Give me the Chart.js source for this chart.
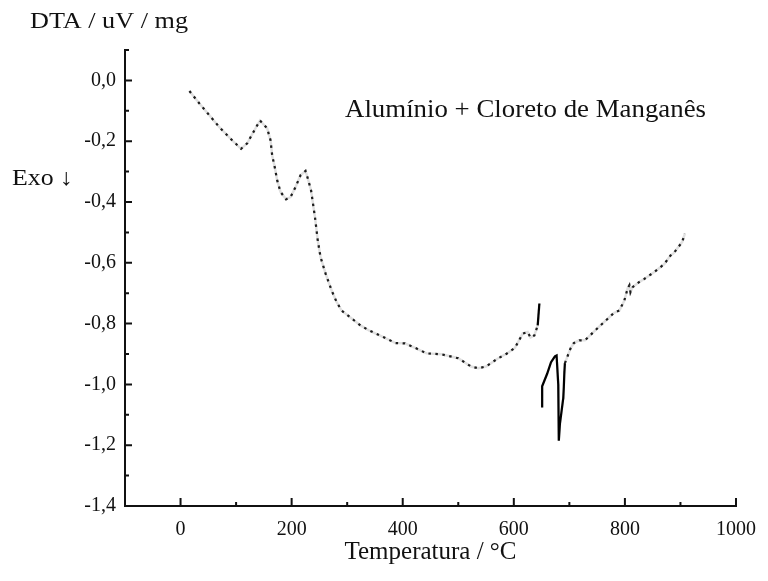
<!DOCTYPE html>
<html>
<head>
<meta charset="utf-8">
<script src="https://cdn.jsdelivr.net/npm/chart.js@4/dist/chart.umd.min.js"></script>
<style>
  html, body { margin: 0; padding: 0; background: #fff; }
  #wrap { width: 768px; height: 581px; }
</style>
</head>
<body>
<div id="wrap"><canvas id="dta" width="768" height="581"></canvas></div>
<script>
// DTA curve: temperature (°C) and signal (uV/mg); null marks a break in the trace
const temperatures = [16, 34, 52, 70, 93, 109, 120, 133, 143, 156, 162, 165, 170, 174, 180, 190, 198, 207, 216, 225,
  229, 235, 242, 247, 252, 261, 272, 281, 290, 308, 324, 339, 366, 387, 404, 425, 443, 470, 500, 523,
  536, 550, 572, 587, 602, 616, 625, 630, 637, 643, 646, 648, 651, 651, 660, 667, 674, 677, 680, 681,
  683, 689, 690, 691, 692, 702, 708, 718, 728, 756, 772, 780, 790, 799, 805, 808, 810, 814, 826, 835,
  853, 871, 882, 887, 903, 908];
const dtaSignal = [-0.035, -0.076, -0.115, -0.154, -0.197, -0.225, -0.207, -0.164, -0.132, -0.158, -0.197, -0.247, -0.289, -0.329, -0.367, -0.391, -0.384, -0.351, -0.312, -0.298,
  -0.322, -0.362, -0.450, -0.526, -0.581, -0.635, -0.691, -0.729, -0.757, -0.783, -0.806, -0.822, -0.845, -0.864, -0.865, -0.882, -0.898, -0.901, -0.914, -0.941,
  -0.947, -0.941, -0.914, -0.899, -0.880, -0.833, -0.828, -0.846, -0.839, -0.806, -0.734, null, -1.076, -1.006, -0.965, -0.927, -0.908, -0.905, -1.000, -1.185,
  -1.130, -1.045, -1.010, -0.960, -0.930, -0.882, -0.864, -0.855, -0.855, -0.806, -0.779, -0.765, -0.757, -0.724, -0.684, -0.674, -0.697, -0.680, -0.663, -0.653,
  -0.630, -0.604, -0.576, -0.570, -0.532, -0.504];

// Axis ticks
const xTickValues = [0, 200, 400, 600, 800, 1000];
const xTickLabels = ['0', '200', '400', '600', '800', '1000'];
const xMinorTicks = [100, 300, 500, 700, 900];
const yTickValues = [0.0, -0.2, -0.4, -0.6, -0.8, -1.0, -1.2, -1.4];
const yTickLabels = ['0,0', '-0,2', '-0,4', '-0,6', '-0,8', '-1,0', '-1,2', '-1,4'];
const yMinorTicks = [0.1, -0.1, -0.3, -0.5, -0.7, -0.9, -1.1, -1.3];

const SERIF = '"Liberation Serif", "Times New Roman", serif';
const INK = '#111';

const points = temperatures.map((t, i) => ({ x: t, y: dtaSignal[i] }));

// the sharp event around 640-700 °C prints as a solid stroke; elsewhere the trace is dotted
const inEvent = ctx => ctx.p0.parsed.x >= 640 && ctx.p1.parsed.x <= 700;

// inward tick marks on both axes
const tickMarks = {
  id: 'tickMarks',
  afterDraw(chart) {
    const { ctx, scales: { x, y } } = chart;
    const x0 = x.left, y0 = y.bottom;
    ctx.save();
    ctx.strokeStyle = INK;
    ctx.lineWidth = 2;
    ctx.beginPath();
    yTickValues.forEach(v => { const p = y.getPixelForValue(v); ctx.moveTo(x0, p); ctx.lineTo(x0 + 7, p); });
    yMinorTicks.forEach(v => { const p = y.getPixelForValue(v); ctx.moveTo(x0 - 1, p); ctx.lineTo(x0 + 4, p); });
    xTickValues.forEach(v => { const p = x.getPixelForValue(v); ctx.moveTo(p, y0); ctx.lineTo(p, y0 - 8); });
    xMinorTicks.forEach(v => { const p = x.getPixelForValue(v); ctx.moveTo(p, y0); ctx.lineTo(p, y0 - 4); });
    ctx.stroke();
    ctx.restore();
  }
};

// text set in a slightly wide serif: draw at a given size, then stretch to the wanted width
function wideText(ctx, text, x, y, size, width) {
  ctx.font = size + 'px ' + SERIF;
  const w = ctx.measureText(text).width;
  ctx.save();
  ctx.translate(x, y);
  ctx.scale(width / w, 1);
  ctx.fillText(text, 0, 0);
  ctx.restore();
}

// free-standing captions: unit label, exo direction and sample name
const captions = {
  id: 'captions',
  afterDraw(chart) {
    const { ctx } = chart;
    ctx.save();
    ctx.fillStyle = INK;
    ctx.textBaseline = 'middle';
    ctx.textAlign = 'left';
    wideText(ctx, 'DTA / uV / mg', 30, 22, 24, 158);
    wideText(ctx, 'Exo \u2193', 12, 179, 23, 61);
    wideText(ctx, 'Alumínio + Cloreto de Manganês', 345, 110, 25, 361);
    ctx.restore();
  }
};

new Chart(document.getElementById('dta'), {
  type: 'line',
  data: {
    datasets: [
      {
        // faint trace joining the printed dots
        data: points,
        borderColor: 'rgba(0,0,0,0.12)',
        borderWidth: 2.5,
        pointRadius: 0,
        tension: 0,
        spanGaps: false
      },
      {
        data: points,
        borderColor: '#222',
        borderWidth: 2.2,
        pointRadius: 0,
        tension: 0,
        spanGaps: false,
        borderDash: [2.5, 4.5],
        segment: {
          borderDash: c => inEvent(c) ? [] : undefined,
          borderColor: c => inEvent(c) ? '#000' : undefined
        }
      }
    ]
  },
  options: {
    responsive: false,
    animation: false,
    devicePixelRatio: 1,
    layout: { padding: { top: 50, right: 29, left: 0, bottom: 0 } },
    plugins: { legend: { display: false }, tooltip: { enabled: false } },
    scales: {
      x: {
        type: 'linear',
        position: 'bottom',
        min: -100,
        max: 1000,
        afterFit: s => { s.height = 75; },
        afterBuildTicks: s => { s.ticks = xTickValues.map(v => ({ value: v })); },
        grid: { display: false, drawTicks: false },
        border: { display: true, color: INK, width: 2 },
        ticks: {
          autoSkip: false,
          maxRotation: 0,
          padding: 12,
          color: INK,
          font: { family: SERIF, size: 20 },
          callback: v => xTickLabels[xTickValues.indexOf(v)]
        },
        title: {
          display: true,
          text: 'Temperatura / °C',
          color: INK,
          font: { family: SERIF, size: 25 },
          padding: { top: 0, bottom: 14 }
        }
      },
      y: {
        type: 'linear',
        min: -1.4,
        max: 0.1,
        afterFit: s => { s.width = 125; },
        afterBuildTicks: s => { s.ticks = yTickValues.map(v => ({ value: v })); },
        grid: { display: false, drawTicks: false },
        border: { display: true, color: INK, width: 2 },
        ticks: {
          autoSkip: false,
          padding: 9,
          color: INK,
          font: { family: SERIF, size: 20 },
          callback: v => yTickLabels[yTickValues.findIndex(t => Math.abs(t - v) < 1e-9)]
        }
      }
    }
  },
  plugins: [tickMarks, captions]
});
</script>
</body>
</html>
